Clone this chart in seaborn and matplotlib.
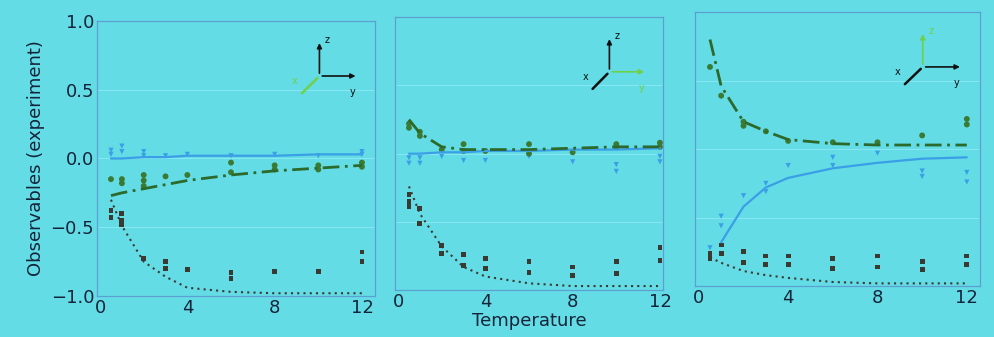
import numpy as np
import pandas as pd
import seaborn as sns
import matplotlib.pyplot as plt

# --- Data ---
temps = [0.5, 1, 2, 3, 4, 6, 8, 10, 12]

# theory curves (lines)
line_blue_1 = [0.0, 0.0, 0.01, 0.01, 0.02, 0.02, 0.02, 0.03, 0.03]
line_green_1 = [-0.27, -0.25, -0.22, -0.19, -0.16, -0.12, -0.09, -0.07, -0.05]
line_dark_1 = [-0.30, -0.49, -0.75, -0.86, -0.94, -0.97, -0.98, -0.98, -0.98]

line_blue_2 = [0.0, 0.0, 0.01, 0.01, 0.02, 0.02, 0.03, 0.03, 0.04]
line_green_2 = [0.25, 0.15, 0.05, 0.03, 0.03, 0.03, 0.04, 0.05, 0.05]
line_dark_2 = [-0.24, -0.44, -0.68, -0.83, -0.90, -0.95, -0.97, -0.97, -0.97]

temps_blue_3 = [1, 2, 3, 4, 6, 8, 10, 12]
line_blue_3 = [-0.68, -0.42, -0.28, -0.21, -0.14, -0.10, -0.07, -0.06]
line_green_3 = [0.80, 0.46, 0.20, 0.13, 0.07, 0.04, 0.03, 0.03, 0.03]
line_dark_3 = [-0.79, -0.83, -0.89, -0.92, -0.94, -0.97, -0.98, -0.98, -0.98]

# experiment (repeated measurements per temperature)
pts_blue_1 = [[0.03, 0.06], [0.05, 0.09], [0.02, 0.05], [0.02], [0.03], [0.02], [0.03], [0.02], [0.03, 0.05]]
pts_green_1 = [[-0.15], [-0.15, -0.18], [-0.12, -0.16, -0.20], [-0.13], [-0.12], [-0.03, -0.10], [-0.05, -0.08], [-0.05, -0.08], [-0.03, -0.06]]
pts_dark_1 = [[-0.38, -0.43], [-0.40, -0.45, -0.48], [-0.73], [-0.75, -0.80], [-0.81], [-0.83, -0.87], [-0.82], [-0.82], [-0.68, -0.75]]

pts_blue_2 = [[-0.03, -0.07], [-0.03, -0.07], [-0.02], [-0.05], [-0.05], [-0.02], [-0.06], [-0.08, -0.13], [-0.02, -0.06]]
pts_green_2 = [[0.22, 0.19], [0.16, 0.13], [0.03], [0.07, 0.02], [0.02], [0.07, 0.0], [0.01], [0.07, 0.05], [0.08, 0.05]]
pts_dark_2 = [[-0.30, -0.35, -0.39], [-0.40, -0.51], [-0.67, -0.73], [-0.74, -0.82], [-0.77, -0.84], [-0.79, -0.87], [-0.83, -0.89], [-0.79, -0.88], [-0.69, -0.78]]

pts_blue_3 = [[-0.72], [-0.49, -0.56], [-0.34], [-0.25, -0.31], [-0.12], [-0.06, -0.12], [-0.03], [-0.16, -0.20], [-0.17, -0.24]]
pts_green_3 = [[0.60], [0.39], [0.20, 0.17], [0.13], [0.06], [0.05], [0.05], [0.10], [0.22, 0.18]]
pts_dark_3 = [[-0.76, -0.80], [-0.70, -0.76], [-0.75, -0.83], [-0.78, -0.84], [-0.78, -0.84], [-0.80, -0.87], [-0.78, -0.86], [-0.82, -0.88], [-0.78, -0.84]]

# which axis arrow is highlighted green in the little icon: x, y or z
icon_green = ["x", "y", "z"]

BG = "#63dce5"
TXT = "#14243a"
BLUE = "#3a9fe6"
GREEN = "#2c6a2c"
DARK = "#3b3a32"
SPINE = "#5c9fd2"


def to_df(pts):
    rows = [(t, v) for t, vals in zip(temps, pts) for v in vals]
    return pd.DataFrame(rows, columns=["T", "val"])


def draw_icon(ax, green):
    ox, oy = 0.80, 0.80
    cz = "#6fd04a" if green == "z" else "#111111"
    cy = "#6fd04a" if green == "y" else "#111111"
    cx = "#6fd04a" if green == "x" else "#111111"
    kw = dict(xycoords="axes fraction", textcoords="axes fraction")
    ax.annotate("", xy=(ox, oy + 0.13), xytext=(ox, oy),
                arrowprops=dict(arrowstyle="-|>", color=cz, lw=1.2, mutation_scale=7), **kw)
    ax.annotate("", xy=(ox + 0.14, oy), xytext=(ox, oy),
                arrowprops=dict(arrowstyle="-|>", color=cy, lw=1.2, mutation_scale=7), **kw)
    ax.annotate("", xy=(ox - 0.07, oy - 0.07), xytext=(ox, oy),
                arrowprops=dict(arrowstyle="-", color=cx, lw=1.8), **kw)
    ax.text(ox + 0.02, oy + 0.12, "z", color=cz, fontsize=7, transform=ax.transAxes)
    ax.text(ox + 0.11, oy - 0.07, "y", color=cy, fontsize=7, transform=ax.transAxes)
    ax.text(ox - 0.10, oy - 0.03, "x", color=cx, fontsize=7, transform=ax.transAxes)


sns.set_style("white")
plt.rcParams["font.family"] = ["DejaVu Sans"]

fig = plt.figure(figsize=(9.94, 3.37), dpi=100, facecolor=BG)
positions = [
    [0.0976, 0.1217, 0.2797, 0.816],
    [0.3974, 0.139, 0.2696, 0.81],
    [0.699, 0.151, 0.2867, 0.813],
]
xlims = [(-0.14, 12.6), (-0.14, 12.14), (-0.18, 12.58)]

panels = [
    (temps, line_blue_1, line_green_1, line_dark_1, pts_blue_1, pts_green_1, pts_dark_1),
    (temps, line_blue_2, line_green_2, line_dark_2, pts_blue_2, pts_green_2, pts_dark_2),
    (temps_blue_3, line_blue_3, line_green_3, line_dark_3, pts_blue_3, pts_green_3, pts_dark_3),
]

for i, (tb, lb, lg, ld, pb, pg, pd_) in enumerate(panels):
    ax = fig.add_axes(positions[i])
    ax.set_facecolor(BG)

    sns.lineplot(x=tb, y=lb, ax=ax, color=BLUE, lw=1.6)
    sns.lineplot(x=temps, y=lg, ax=ax, color=GREEN, lw=2.0, linestyle=(0, (6, 2, 1, 2)))
    sns.lineplot(x=temps, y=ld, ax=ax, color=DARK, lw=1.5, linestyle=(0, (1, 2)))

    sns.scatterplot(data=to_df(pb), x="T", y="val", ax=ax, marker="v", s=14,
                    color=BLUE, edgecolor="none")
    sns.scatterplot(data=to_df(pg), x="T", y="val", ax=ax, marker="o", s=18,
                    color="#3b7a33", edgecolor="none")
    sns.scatterplot(data=to_df(pd_), x="T", y="val", ax=ax, marker="s", s=12,
                    color=DARK, edgecolor="none")

    ax.set_xlim(*xlims[i])
    ax.set_ylim(-1, 1)
    ax.set_xticks([0, 4, 8, 12])
    ax.set_yticks([-1.0, -0.5, 0.0, 0.5, 1.0])
    for yv in [-0.5, 0.0, 0.5]:
        ax.axhline(yv, color="#86e6f2", lw=0.8, zorder=0)
    ax.tick_params(length=0, labelsize=13, colors=TXT, pad=2)
    if i > 0:
        ax.set_yticklabels([])
    for s in ax.spines.values():
        s.set_color(SPINE)
        s.set_linewidth(0.9)
    ax.set_xlabel("")
    ax.set_ylabel("")
    draw_icon(ax, icon_green[i])

    if i == 0:
        ax.set_ylabel("Observables (experiment)", fontsize=13, color=TXT, labelpad=4)
    if i == 1:
        ax.set_xlabel("Temperature", fontsize=13, color=TXT, labelpad=1)

fig.savefig("out.png", dpi=100, facecolor=BG)
